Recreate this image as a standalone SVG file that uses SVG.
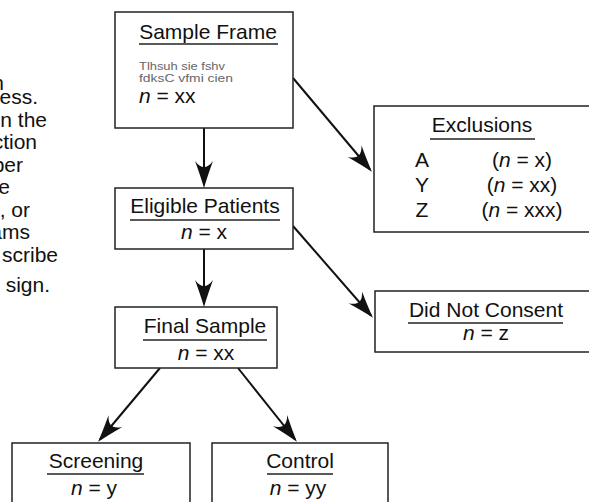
<svg xmlns="http://www.w3.org/2000/svg" width="589" height="502" viewBox="0 0 589 502">
<style>
text{font-family:"Liberation Sans",Arial,Helvetica,sans-serif;font-size:21px;fill:#111}
.m{text-anchor:middle}
.s{font-size:11px;fill:#666}
.box{fill:#fff;stroke:#222;stroke-width:1.5}
.ul{stroke:#222;stroke-width:1.3}
.c{stroke:#111;stroke-width:2;fill:none;marker-end:url(#ah)}
.i{font-style:italic}
</style>
<defs>
<marker id="ah" viewBox="-30 -11 32 22" refX="-3" refY="0" markerWidth="32" markerHeight="22" markerUnits="userSpaceOnUse" orient="auto">
<path d="M0,0 Q-12,-3.5 -27,-9 Q-15,0 -27,9 Q-12,3.5 0,0 Z" fill="#111"/>
</marker>
</defs>
<rect width="589" height="502" fill="#fff"/>
<g id="sidetext">
<text x="4" y="90" text-anchor="end">n</text>
<text x="38" y="104" text-anchor="end">ess.</text>
<text x="47" y="127" text-anchor="end">n the</text>
<text x="37" y="149" text-anchor="end">ction</text>
<text x="23" y="172" text-anchor="end">ber</text>
<text x="10" y="194" text-anchor="end">e</text>
<text x="30" y="217" text-anchor="end">, or</text>
<text x="30" y="239" text-anchor="end">ams</text>
<text x="58" y="262" text-anchor="end">scribe</text>
<text x="50" y="292" text-anchor="end">sign.</text>
</g>
<g id="connectors">
<line class="c" x1="204" y1="128" x2="204" y2="185"/>
<line class="c" x1="204" y1="249" x2="204" y2="304"/>
<line class="c" x1="293" y1="78" x2="370" y2="169.5"/>
<line class="c" x1="293" y1="226" x2="371" y2="315.5"/>
<line class="c" x1="160" y1="368" x2="100" y2="439.5"/>
<line class="c" x1="238" y1="368" x2="295" y2="439.5"/>
</g>
<g id="sample-frame">
<rect class="box" x="115" y="12" width="178" height="116"/>
<text class="m" x="208" y="39">Sample Frame</text>
<line class="ul" x1="139" y1="44" x2="278" y2="44"/>
<text class="s" x="139" y="70" textLength="86" lengthAdjust="spacingAndGlyphs">Tlhsuh sie fshv</text>
<text class="s" x="139" y="82" textLength="94" lengthAdjust="spacingAndGlyphs">fdksC vfmi cien</text>
<text x="139" y="103"><tspan class="i">n</tspan> = xx</text>
</g>
<g id="eligible">
<rect class="box" x="115" y="188" width="178" height="61"/>
<text class="m" x="205" y="213">Eligible Patients</text>
<line class="ul" x1="130" y1="220" x2="280" y2="220"/>
<text class="m" x="204" y="239"><tspan class="i">n</tspan> = x</text>
</g>
<g id="final">
<rect class="box" x="115" y="307" width="162" height="61"/>
<text class="m" x="205" y="333">Final Sample</text>
<line class="ul" x1="143" y1="340" x2="267" y2="340"/>
<text class="m" x="206" y="360"><tspan class="i">n</tspan> = xx</text>
</g>
<g id="exclusions">
<rect class="box" x="374" y="106" width="230" height="126"/>
<text class="m" x="482" y="132">Exclusions</text>
<line class="ul" x1="430" y1="139" x2="535" y2="139"/>
<text class="m" x="422" y="167">A</text>
<text class="m" x="422" y="192">Y</text>
<text class="m" x="422" y="217">Z</text>
<text class="m" x="522" y="167">(<tspan class="i">n</tspan> = x)</text>
<text class="m" x="522" y="192">(<tspan class="i">n</tspan> = xx)</text>
<text class="m" x="522" y="217">(<tspan class="i">n</tspan> = xxx)</text>
</g>
<g id="did-not-consent">
<rect class="box" x="375" y="291" width="230" height="61"/>
<text class="m" x="486" y="317">Did Not Consent</text>
<line class="ul" x1="408" y1="323" x2="563" y2="323"/>
<text class="m" x="486" y="340"><tspan class="i">n</tspan> = z</text>
</g>
<g id="screening">
<rect class="box" x="12" y="443" width="178" height="70"/>
<text class="m" x="96" y="468">Screening</text>
<line class="ul" x1="47" y1="474" x2="144" y2="474"/>
<text class="m" x="94" y="495"><tspan class="i">n</tspan> = y</text>
</g>
<g id="control">
<rect class="box" x="212" y="443" width="176" height="70"/>
<text class="m" x="300" y="468">Control</text>
<line class="ul" x1="267" y1="474" x2="333" y2="474"/>
<text class="m" x="298" y="495"><tspan class="i">n</tspan> = yy</text>
</g>
</svg>
